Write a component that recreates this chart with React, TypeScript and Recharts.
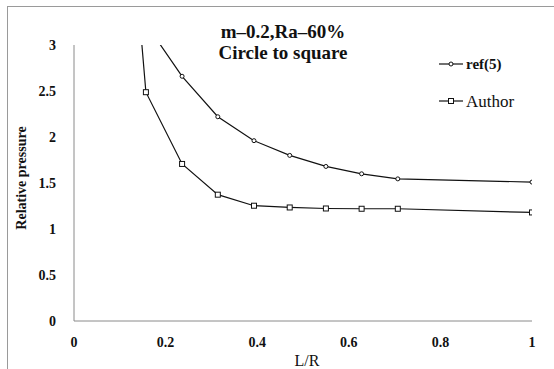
import React from "react";
import { LineChart, Line, XAxis, YAxis } from "recharts";

// L/R sample positions (multiples of pi/40) plus the far end
const lrValues = [0.0785, 0.157, 0.236, 0.314, 0.393, 0.471, 0.55, 0.628, 0.707, 1.0];
const refValues = [null, 3.23, 2.66, 2.22, 1.96, 1.8, 1.68, 1.6, 1.545, 1.51];
const authorValues = [7.1, 2.487, 1.707, 1.373, 1.253, 1.234, 1.223, 1.22, 1.22, 1.18];
const xTicks = [0, 0.2, 0.4, 0.6, 0.8, 1];
const yTicks = [0, 0.5, 1, 1.5, 2, 2.5, 3];
const titleLines = ["m–0.2,Ra–60%", "Circle to square"];

const data = lrValues.map((lr, i) => ({
  lr,
  ref: refValues[i],
  author: authorValues[i],
}));

const serif = "'Liberation Serif', 'DejaVu Serif', serif";

const SquareDot = (props: any) => {
  const { cx, cy, index } = props;
  if (cx == null || cy == null) return <g key={`sq-${index}`} />;
  return (
    <rect
      key={`sq-${index}`}
      x={cx - 2.5}
      y={cy - 2.5}
      width={5}
      height={5}
      fill="#fff"
      stroke="#111"
      strokeWidth={1}
    />
  );
};

const LegendBox = () => (
  <svg
    width={110}
    height={60}
    style={{ position: "absolute", left: 439, top: 58, overflow: "visible" }}
  >
    <line x1={0} y1={6} x2={24} y2={6} stroke="#111" strokeWidth={1.2} />
    <circle cx={12} cy={6} r={2} fill="#fff" stroke="#111" strokeWidth={1} />
    <text x={27} y={11} fontFamily={serif} fontSize={15} fontWeight="bold" fill="#111">
      ref(5)
    </text>
    <line x1={0} y1={43} x2={24} y2={43} stroke="#111" strokeWidth={1.2} />
    <rect x={9.5} y={40.5} width={5} height={5} fill="#fff" stroke="#111" strokeWidth={1} />
    <text x={27} y={49} fontFamily={serif} fontSize={17} fill="#111">
      Author
    </text>
  </svg>
);

export default function App() {
  return (
    <div
      style={{
        position: "absolute",
        left: 0,
        top: 0,
        width: 554,
        height: 369,
        background: "#fff",
        overflow: "hidden",
      }}
    >
      <div
        style={{
          position: "absolute",
          left: 7,
          top: 6,
          width: 560,
          height: 380,
          borderLeft: "1px solid #9a9a9a",
          borderTop: "1px solid #9a9a9a",
        }}
      />
      {titleLines.map((t, i) => (
        <div
          key={t}
          style={{
            position: "absolute",
            left: 283,
            top: 31 + i * 21,
            transform: "translate(-50%, -50%)",
            whiteSpace: "nowrap",
            fontFamily: serif,
            fontWeight: "bold",
            fontSize: 19,
            lineHeight: "19px",
            color: "#111",
          }}
        >
          {t}
        </div>
      ))}
      <div
        style={{
          position: "absolute",
          left: 22,
          top: 178,
          transform: "translate(-50%, -50%) rotate(-90deg)",
          whiteSpace: "nowrap",
          fontFamily: serif,
          fontWeight: "bold",
          fontSize: 14,
          color: "#111",
        }}
      >
        Relative pressure
      </div>
      <div
        style={{
          position: "absolute",
          left: 307,
          top: 361,
          transform: "translate(-50%, -50%)",
          fontFamily: serif,
          fontSize: 16,
          color: "#111",
        }}
      >
        L/R
      </div>
      <LegendBox />
      <div style={{ position: "absolute", left: 0, top: 0 }}>
        <LineChart
          width={554}
          height={369}
          data={data}
          margin={{ top: 45, right: 22, left: 14, bottom: 18 }}
        >
          <XAxis
            dataKey="lr"
            type="number"
            domain={[0, 1]}
            ticks={xTicks}
            allowDataOverflow
            axisLine={{ stroke: "#8a8a8a", strokeWidth: 1 }}
            tickLine={false}
            tickMargin={10}
            height={30}
            tick={{ fontFamily: serif, fontSize: 14, fontWeight: "bold", fill: "#111" }}
            tickFormatter={(v: number) => String(v)}
          />
          <YAxis
            type="number"
            domain={[0, 3]}
            ticks={yTicks}
            allowDataOverflow
            width={60}
            axisLine={{ stroke: "#8a8a8a", strokeWidth: 1 }}
            tickLine={false}
            tickMargin={12}
            tick={{ fontFamily: serif, fontSize: 14, fontWeight: "bold", fill: "#111" }}
            tickFormatter={(v: number) => String(v)}
          />
          <Line
            dataKey="ref"
            type="linear"
            stroke="#111"
            strokeWidth={1.2}
            dot={{ r: 2, fill: "#fff", stroke: "#111", strokeWidth: 1 }}
            activeDot={false}
            isAnimationActive={false}
          />
          <Line
            dataKey="author"
            type="linear"
            stroke="#111"
            strokeWidth={1.2}
            dot={SquareDot}
            activeDot={false}
            isAnimationActive={false}
          />
        </LineChart>
      </div>
    </div>
  );
}
